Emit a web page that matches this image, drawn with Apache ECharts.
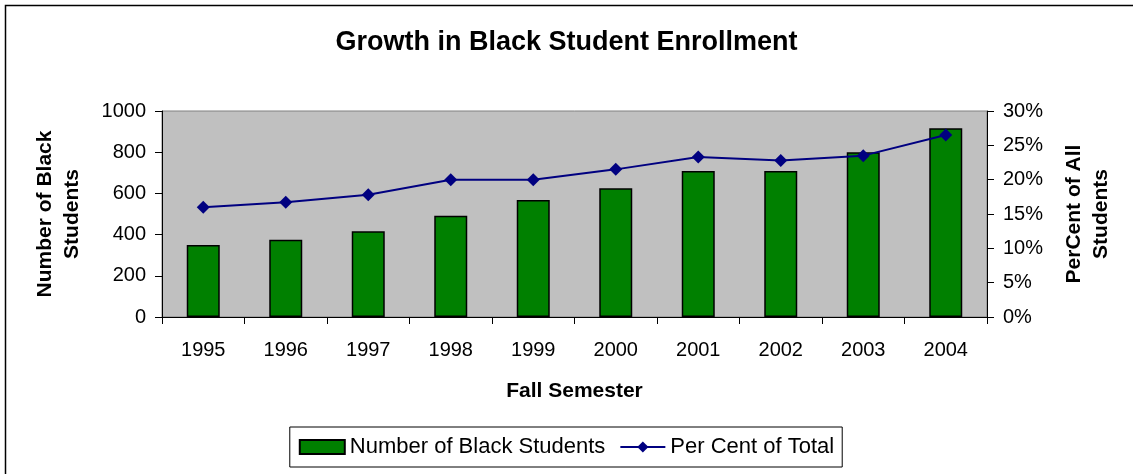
<!DOCTYPE html>
<html>
<head>
<meta charset="utf-8">
<script src="https://cdn.jsdelivr.net/npm/echarts@6/dist/echarts.min.js"></script>
<style>
    html, body { margin: 0; padding: 0; background: #fff; }
    #chart { width: 1133px; height: 474px; }
</style>
</head>
<body>
<div id="chart"></div>
<script>
// data
const years = ['1995', '1996', '1997', '1998', '1999', '2000', '2001', '2002', '2003', '2004']
const blackStudents = [349, 375, 416, 492, 568, 625, 709, 709, 800, 916]
const perCentOfTotal = [16.0, 16.7, 17.8, 20.0, 20.0, 21.5, 23.3, 22.8, 23.5, 26.5]

const font = 'Arial, "Liberation Sans", sans-serif'
const chart = echarts.init(document.getElementById('chart'))

const option = {
    backgroundColor: '#fff',
    animation: false,
    textStyle: { fontFamily: font, color: '#000' },
    graphic: [
        {
            type: 'rect',
            shape: { x: 5.5, y: 5.5, width: 1140, height: 480 },
            style: { fill: 'none', stroke: '#000', lineWidth: 1.5 },
            silent: true
        }
    ],
    title: {
        text: 'Growth in Black Student Enrollment',
        left: 'center',
        top: 24,
        textStyle: { fontFamily: font, fontSize: 27, fontWeight: 'bold', color: '#000' }
    },
    grid: {
        left: 162,
        right: 146,
        top: 111,
        bottom: 157,
        show: true,
        backgroundColor: '#c0c0c0',
        borderColor: '#808080',
        borderWidth: 1
    },
    legend: {
        bottom: 7,
        left: 'center',
        padding: [9, 8, 9, 9],
        borderColor: '#000',
        borderWidth: 1,
        itemWidth: 45,
        itemHeight: 14,
        itemGap: 14,
        textStyle: { fontFamily: font, fontSize: 22, color: '#000' },
        data: [
            { name: 'Number of Black Students', icon: 'rect' },
            { name: 'Per Cent of Total' }
        ]
    },
    xAxis: {
        type: 'category',
        data: years,
        name: 'Fall Semester',
        nameLocation: 'middle',
        nameGap: 64,
        nameTextStyle: { fontFamily: font, fontSize: 21, fontWeight: 'bold', color: '#000' },
        axisLine: { lineStyle: { color: '#000', width: 1 } },
        axisTick: { show: true, length: 7, lineStyle: { color: '#000' } },
        axisLabel: { fontFamily: font, fontSize: 20, color: '#000', margin: 23 },
        splitLine: { show: false }
    },
    yAxis: [
        {
            type: 'value',
            min: 0,
            max: 1000,
            interval: 200,
            name: 'Number of Black\nStudents',
            nameLocation: 'middle',
            nameRotate: 90,
            nameGap: 76,
            nameTextStyle: { fontFamily: font, fontSize: 21, fontWeight: 'bold', color: '#000', lineHeight: 27 },
            axisLine: { show: true, lineStyle: { color: '#000' } },
            axisTick: { show: true, length: 7, lineStyle: { color: '#000' } },
            axisLabel: {
                fontFamily: font, fontSize: 20, color: '#000', margin: 16,
                formatter: function (v) { return String(v) }
            },
            splitLine: { show: false }
        },
        {
            type: 'value',
            min: 0,
            max: 30,
            interval: 5,
            name: 'PerCent of All\nStudents',
            nameLocation: 'middle',
            nameRotate: 90,
            nameGap: 74,
            nameTextStyle: { fontFamily: font, fontSize: 21, fontWeight: 'bold', color: '#000', lineHeight: 27 },
            axisLine: { show: true, lineStyle: { color: '#000' } },
            axisTick: { show: true, length: 7, lineStyle: { color: '#000' } },
            axisLabel: { fontFamily: font, fontSize: 20, color: '#000', margin: 16, formatter: '{value}%' },
            splitLine: { show: false }
        }
    ],
    series: [
        {
            name: 'Number of Black Students',
            type: 'bar',
            yAxisIndex: 0,
            data: blackStudents,
            barWidth: 33,
            itemStyle: { color: '#008000', borderColor: '#000', borderWidth: 1.5 }
        },
        {
            name: 'Per Cent of Total',
            type: 'line',
            yAxisIndex: 1,
            data: perCentOfTotal,
            symbol: 'diamond',
            symbolSize: 13,
            lineStyle: { color: '#000080', width: 2 },
            itemStyle: { color: '#000080' }
        }
    ]
}
chart.setOption(option)
</script>
</body>
</html>
